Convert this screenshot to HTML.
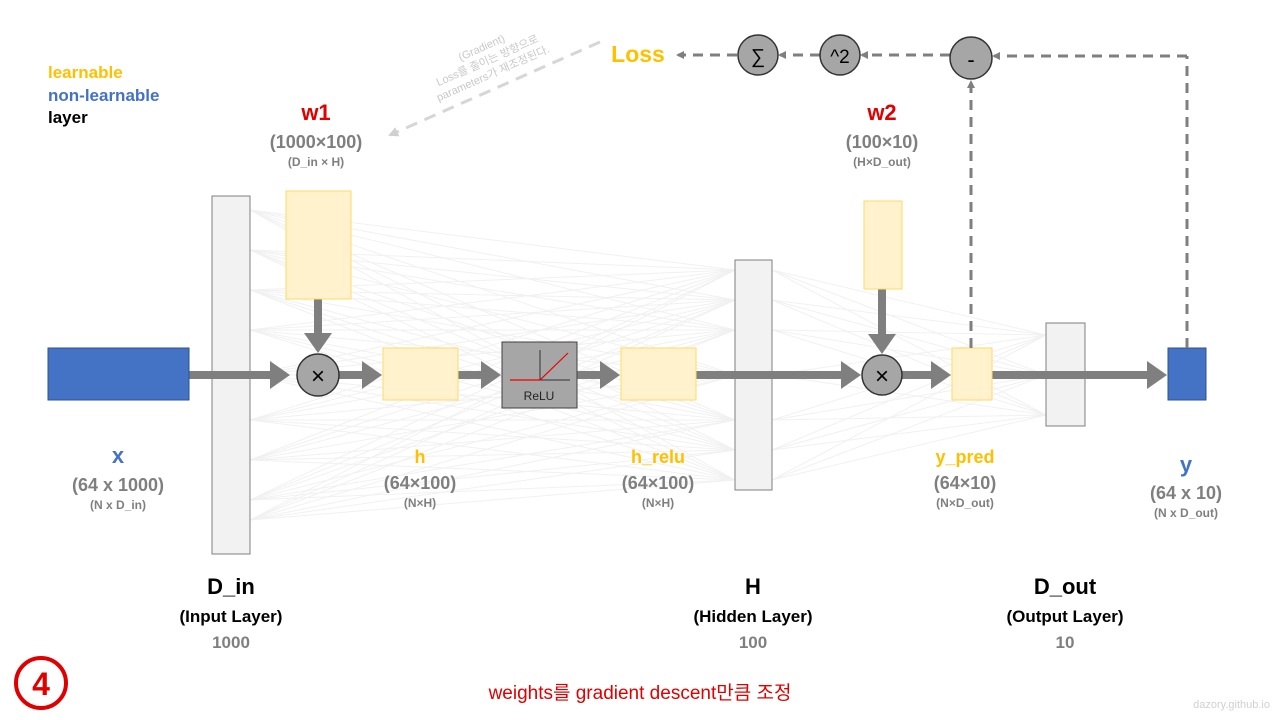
<!DOCTYPE html>
<html><head><meta charset="utf-8"><style>
body{margin:0;background:#fff}
svg{display:block}
text{font-family:"Liberation Sans","Noto Sans CJK KR",sans-serif}
</style></head><body>
<svg width="1280" height="720" viewBox="0 0 1280 720">
<defs>
<marker id="ah" markerWidth="3" markerHeight="4" refX="1.5" refY="1.75" orient="auto" markerUnits="strokeWidth"><path d="M0,0 L2.5,1.75 L0,3.5 Z" fill="#7f7f7f"/></marker>
<marker id="ad" markerWidth="8" markerHeight="8" refX="6" refY="4" orient="auto" markerUnits="userSpaceOnUse"><path d="M0,0 L8,4 L0,8 Z" fill="#7f7f7f"/></marker>
<marker id="al" markerWidth="10" markerHeight="10" refX="8" refY="5" orient="auto" markerUnits="userSpaceOnUse"><path d="M0,0 L10,5 L0,10 Z" fill="#d0d0d0"/></marker>
</defs>
<g id="net" stroke="#f1f1f1" stroke-width="1"></g>

<text x="48" y="78" font-size="17" font-weight="bold" fill="#ffc000">learnable</text>
<text x="48" y="101" font-size="17" font-weight="bold" fill="#4472c4">non-learnable</text>
<text x="48" y="123" font-size="17" font-weight="bold" fill="#000">layer</text>

<rect x="212" y="196" width="38" height="358" fill="#f2f2f2" stroke="#7f7f7f"/>
<rect x="735" y="260" width="37" height="230" fill="#f2f2f2" stroke="#7f7f7f"/>
<rect x="1046" y="323" width="39" height="103" fill="#f2f2f2" stroke="#7f7f7f"/>

<g stroke="#7f7f7f" stroke-width="8" fill="none">
<line x1="189" y1="375" x2="282" y2="375" marker-end="url(#ah)"/>
<line x1="339" y1="375" x2="374" y2="375" marker-end="url(#ah)"/>
<line x1="458" y1="375" x2="493" y2="375" marker-end="url(#ah)"/>
<line x1="577" y1="375" x2="612" y2="375" marker-end="url(#ah)"/>
<line x1="696" y1="375" x2="853" y2="375" marker-end="url(#ah)"/>
<line x1="902" y1="375" x2="943" y2="375" marker-end="url(#ah)"/>
<line x1="992" y1="375" x2="1159" y2="375" marker-end="url(#ah)"/>
<line x1="318" y1="299" x2="318" y2="345" marker-end="url(#ah)"/>
<line x1="882" y1="289" x2="882" y2="346" marker-end="url(#ah)"/>
</g>

<rect x="48" y="348" width="141" height="52" fill="#4472c4" stroke="#2f528f"/>
<rect x="1168" y="348" width="38" height="52" fill="#4472c4" stroke="#2f528f"/>
<rect x="286" y="191" width="65" height="108" fill="#fff2cc" stroke="#ffd966"/>
<rect x="864" y="201" width="38" height="88" fill="#fff2cc" stroke="#ffd966"/>
<rect x="383" y="348" width="75" height="52" fill="#fff2cc" stroke="#ffd966"/>
<rect x="621" y="348" width="75" height="52" fill="#fff2cc" stroke="#ffd966"/>
<rect x="952" y="348" width="40" height="52" fill="#fff2cc" stroke="#ffd966"/>

<g>
<rect x="502" y="342" width="75" height="66" fill="#a6a6a6" stroke="#404040"/>
<line x1="510" y1="380" x2="570" y2="380" stroke="#333" stroke-width="1"/>
<line x1="540" y1="350" x2="540" y2="380" stroke="#333" stroke-width="1"/>
<polyline points="510,380 540,380 568,353" fill="none" stroke="#e00" stroke-width="1.2"/>
<text x="539" y="400" font-size="12" text-anchor="middle" fill="#222">ReLU</text>
</g>

<g><circle cx="318" cy="375" r="21" fill="#a6a6a6" stroke="#333" stroke-width="1.5"/><text x="318" y="384" font-size="24" text-anchor="middle">×</text></g>
<g><circle cx="882" cy="375" r="20" fill="#a6a6a6" stroke="#333" stroke-width="1.5"/><text x="882" y="384" font-size="24" text-anchor="middle">×</text></g>

<g stroke="#7f7f7f" stroke-width="3" stroke-dasharray="10,7" fill="none">
<line x1="971" y1="348" x2="971" y2="82" marker-end="url(#ad)"/>
<line x1="1187" y1="348" x2="1187" y2="56"/>
<line x1="1187" y1="56" x2="994" y2="56" marker-end="url(#ad)"/>
<line x1="950" y1="55" x2="862" y2="55" marker-end="url(#ad)"/>
<line x1="820" y1="55" x2="780" y2="55" marker-end="url(#ad)"/>
<line x1="737" y1="55" x2="678" y2="55" marker-end="url(#ad)"/>
</g>
<g><circle cx="758" cy="55" r="20" fill="#a6a6a6" stroke="#333" stroke-width="1.5"/><text x="758" y="63" font-size="20" text-anchor="middle">∑</text></g>
<g><circle cx="840" cy="55" r="20" fill="#a6a6a6" stroke="#333" stroke-width="1.5"/><text x="840" y="63" font-size="19" text-anchor="middle">^2</text></g>
<g><circle cx="971" cy="58" r="21" fill="#a6a6a6" stroke="#333" stroke-width="1.5"/><text x="971" y="67" font-size="22" text-anchor="middle">-</text></g>
<text x="638" y="62" font-size="23" font-weight="bold" fill="#ffc000" text-anchor="middle">Loss</text>

<line x1="600" y1="42" x2="390" y2="135" stroke="#d6d6d6" stroke-width="3" stroke-dasharray="12,8" marker-end="url(#al)"/>
<g transform="rotate(-24 488 62)" fill="#c8c8c8" font-size="11" text-anchor="middle">
<text x="488" y="50">(Gradient)</text>
<text x="488" y="64">Loss를 줄이는 방향으로</text>
<text x="488" y="78">parameters가 재조정된다.</text>
</g>

<g text-anchor="middle" font-weight="bold">
<text x="316" y="120" font-size="22" fill="#e00000">w1</text>
<text x="316" y="148" font-size="18" fill="#7f7f7f">(1000×100)</text>
<text x="316" y="166" font-size="12" fill="#7f7f7f">(D_in × H)</text>
<text x="882" y="120" font-size="22" fill="#e00000">w2</text>
<text x="882" y="148" font-size="18" fill="#7f7f7f">(100×10)</text>
<text x="882" y="166" font-size="12" fill="#7f7f7f">(H×D_out)</text>

<text x="118" y="463" font-size="22" fill="#4472c4">x</text>
<text x="118" y="491" font-size="18" fill="#7f7f7f">(64 x 1000)</text>
<text x="118" y="509" font-size="12" fill="#7f7f7f">(N x D_in)</text>
<text x="420" y="463" font-size="18" fill="#ffc000">h</text>
<text x="420" y="489" font-size="18" fill="#7f7f7f">(64×100)</text>
<text x="420" y="507" font-size="12" fill="#7f7f7f">(N×H)</text>
<text x="658" y="463" font-size="18" fill="#ffc000">h_relu</text>
<text x="658" y="489" font-size="18" fill="#7f7f7f">(64×100)</text>
<text x="658" y="507" font-size="12" fill="#7f7f7f">(N×H)</text>
<text x="965" y="463" font-size="18" fill="#ffc000">y_pred</text>
<text x="965" y="489" font-size="18" fill="#7f7f7f">(64×10)</text>
<text x="965" y="507" font-size="12" fill="#7f7f7f">(N×D_out)</text>
<text x="1186" y="472" font-size="22" fill="#4472c4">y</text>
<text x="1186" y="499" font-size="18" fill="#7f7f7f">(64 x 10)</text>
<text x="1186" y="517" font-size="12" fill="#7f7f7f">(N x D_out)</text>

<text x="231" y="594" font-size="22" fill="#000">D_in</text>
<text x="231" y="622" font-size="17" fill="#000">(Input Layer)</text>
<text x="231" y="648" font-size="17" fill="#7f7f7f">1000</text>
<text x="753" y="594" font-size="22" fill="#000">H</text>
<text x="753" y="622" font-size="17" fill="#000">(Hidden Layer)</text>
<text x="753" y="648" font-size="17" fill="#7f7f7f">100</text>
<text x="1065" y="594" font-size="22" fill="#000">D_out</text>
<text x="1065" y="622" font-size="17" fill="#000">(Output Layer)</text>
<text x="1065" y="648" font-size="17" fill="#7f7f7f">10</text>
</g>

<g>
<circle cx="41" cy="683" r="25" fill="none" stroke="#e00000" stroke-width="4"/>
<text x="41" y="695" font-size="32" font-weight="bold" fill="#e00000" text-anchor="middle">4</text>
</g>
<text x="640" y="699" font-size="19" fill="#e00000" text-anchor="middle">weights를  gradient  descent만큼  조정</text>
<text x="1270" y="708" font-size="11" fill="#d0d0d0" text-anchor="end">dazory.github.io</text>
</svg>
<script>
const inNodes=[210,250,290,330,375,420,460,500,520];
const hidNodes=[270,300,330,375,420,450,480];
const outNodes=[335,375,415];
const g=document.getElementById('net');
function ln(x1,y1,x2,y2){const l=document.createElementNS('http://www.w3.org/2000/svg','line');
l.setAttribute('x1',x1);l.setAttribute('y1',y1);l.setAttribute('x2',x2);l.setAttribute('y2',y2);


g.appendChild(l);}
inNodes.forEach(a=>hidNodes.forEach(b=>ln(250,a,735,b)));
hidNodes.forEach(a=>outNodes.forEach(b=>ln(772,a,1046,b)));
</script>
</body></html>
